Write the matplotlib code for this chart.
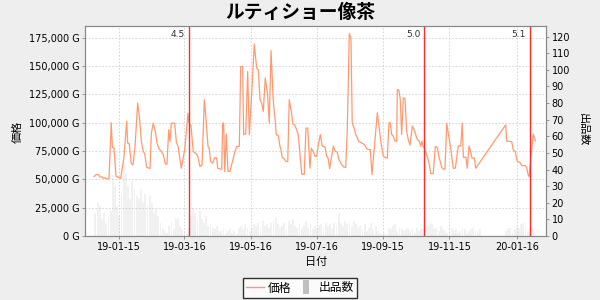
import matplotlib
matplotlib.use('Agg')
import matplotlib.pyplot as plt
import matplotlib.dates as mdates
from matplotlib.lines import Line2D
from matplotlib.ticker import FuncFormatter, MultipleLocator
import pandas as pd

plt.rcParams['font.family'] = ['DejaVu Sans', 'Noto Sans CJK JP']

title = 'ルティショー像茶'
base_day = '2018-12-22'

# 価格: day offsets from base_day and price (G)
price_days = [0.7, 2.8, 5.0, 6.2, 8.3, 9.3, 10.6, 11.8, 14.5, 16.6, 17.6, 19.1, 21.0, 23.1, 25.3,
              28.3, 30.8, 31.7, 33.2, 35.0, 36.6, 38.5, 40.9, 42.8, 44.3, 46.1, 47.4, 49.2, 52.3,
              53.5, 55.3, 57.5, 58.7, 60.3, 62.7, 64.5, 66.4, 67.9, 69.5, 70.7, 71.9, 75.0, 76.5,
              78.1, 79.6, 81.1, 84.2, 87.3, 88.2, 90.0, 92.1, 94.9, 96.5, 98.3, 100.2, 102.3,
              103.8, 105.7, 106.6, 108.2, 110.0, 111.8, 113.7, 114.6, 117.4, 118.3, 119.2, 120.1,
              121.1, 122.5, 124.1, 125.9, 130.5, 132.1, 134.5, 135.8, 137.6, 138.5, 140.4, 142.2,
              143.7, 146.2, 148.3, 150.5, 152.0, 153.6, 155.1, 156.6, 158.4, 160.6, 162.1, 163.7,
              165.8, 167.4, 168.6, 170.4, 172.0, 172.9, 174.1, 175.9, 177.5, 179.1, 180.5, 182.4,
              183.9, 185.5, 187.3, 188.8, 190.4, 192.0, 194.3, 195.9, 197.5, 198.4, 199.6, 200.8,
              202.6, 204.2, 205.8, 207.2, 209.1, 210.9, 213.4, 215.0, 216.2, 217.7, 221.1, 222.6,
              224.7, 226.3, 228.8, 230.9, 232.5, 233.9, 235.8, 237.3, 238.5, 240.1, 241.7, 243.2,
              244.4, 245.9, 248.7, 250.2, 251.8, 253.6, 255.1, 256.7, 259.4, 261.6, 263.1, 265.0,
              267.1, 269.3, 270.8, 272.3, 273.5, 274.8, 276.3, 277.9, 279.4, 280.0, 281.5, 282.7,
              284.0, 285.5, 287.1, 288.6, 290.1, 291.7, 293.8, 295.4, 296.9, 298.4, 300.2, 301.5,
              302.7, 303.6, 304.8, 306.4, 308.0, 309.5, 310.7, 313.1, 315.0, 316.8, 318.7, 320.9,
              322.3, 323.9, 325.5, 326.9, 329.2, 331.5, 333.4, 336.2, 338.4, 339.8, 340.8, 343.2,
              344.4, 346.0, 347.2, 348.8, 350.9, 352.2, 379.8, 380.7, 385.3, 386.8, 388.6, 390.5,
              393.0, 394.5, 397.6, 399.1, 400.3, 401.3, 403.1, 405.2, 407.1]
prices = [52400, 54200, 54000, 52100, 52100, 51000, 51500, 50600, 50400, 100000, 78400, 77800,
          52400, 52100, 50700, 70000, 101400, 82000, 81300, 64200, 62700, 78900, 117300, 102500,
          83300, 74500, 72500, 60700, 59500, 90800, 99600, 90800, 82000, 77500, 74500, 71600,
          63600, 63400, 93700, 83300, 99600, 99600, 83300, 79000, 69500, 59800, 76000, 108400,
          99600, 97500, 74500, 72500, 69500, 61200, 62700, 120200, 104000, 79000, 78000, 65700,
          64200, 69200, 68700, 59800, 59000, 59000, 99600, 99600, 56800, 89900, 56800, 57000,
          74500, 79000, 79000, 149600, 149600, 89300, 90100, 145200, 89300, 130500, 169400,
          148200, 146700, 120200, 117300, 109900, 139400, 124600, 99600, 163500, 118700, 104000,
          89300, 88700, 79000, 76000, 69200, 68000, 65700, 65700, 120200, 109900, 98700, 98100,
          93700, 89300, 71600, 54500, 54500, 95200, 95200, 79000, 59800, 77500, 74500, 70300,
          70300, 80000, 89500, 79300, 78400, 70400, 68900, 59500, 79300, 74900, 74000, 67400,
          63000, 60700, 60500, 92500, 178500, 175000, 99900, 95500, 89500, 86600, 83700, 82800,
          81300, 80200, 76900, 76300, 76300, 54200, 83700, 108700, 97000, 82200, 70400, 68900,
          68900, 99900, 99900, 89500, 88100, 83700, 83700, 129300, 128700, 120500, 89500, 122000,
          121100, 92500, 85100, 80200, 97000, 94000, 89500, 85100, 83700, 79300, 83700, 79300,
          77800, 73400, 68900, 63000, 55100, 55100, 79000, 78000, 68700, 60700, 59000, 59000,
          99600, 90800, 77500, 59800, 59800, 79500, 79500, 99600, 69500, 69500, 59800, 79500,
          76000, 68700, 68700, 59800, 98100, 83700, 83300, 76000, 74500, 65700, 64800, 62100,
          62100, 60700, 54500, 52400, 70100, 89900, 84000]

# 出品数: listings per two-day bin starting at count_start
count_start = '2018-12-24'
counts = [14, 20, 18, 10, 14, 8, 12, 15, 37, 30, 18, 12, 25, 44, 38, 30, 22, 33, 29, 24,
          22, 28, 20, 25, 18, 24, 20, 14, 16, 12, 8, 5, 3, 2, 6, 8, 4, 10, 11, 6,
          4, 3, 2, 5, 12, 17, 14, 9, 15, 10, 8, 12, 6, 8, 5, 4, 6, 3, 3, 4,
          2, 3, 4, 2, 3, 1, 5, 6, 4, 7, 5, 3, 5, 7, 6, 8, 5, 9, 6, 7,
          5, 8, 9, 11, 7, 5, 6, 8, 5, 9, 7, 10, 6, 5, 8, 4, 6, 9, 5, 7,
          4, 6, 5, 6, 7, 5, 8, 6, 7, 5, 8, 6, 14, 8, 6, 9, 7, 8, 6, 9,
          7, 5, 6, 4, 7, 3, 5, 8, 4, 6, 3, 2, 1, 2, 1, 5, 4, 6, 7, 3,
          5, 4, 3, 4, 5, 3, 4, 2, 5, 3, 4, 4, 5, 6, 8, 7, 4, 5, 3, 6,
          4, 3, 2, 4, 5, 3, 4, 2, 3, 5, 4, 2, 3, 4, 5, 3, 2, 4, 0, 0,
          0, 0, 0, 0, 0, 0, 0, 0, 0, 3, 4, 5, 3, 4, 6, 5, 7, 8, 6, 3,
          5, 5, 4, 0]

patch_names = ['4.5', '5.0', '5.1']
patch_dates = ['2019-03-20', '2019-10-23', '2020-01-28']

tick_dates = ['2019-01-15', '2019-03-16', '2019-05-16', '2019-07-16',
              '2019-09-15', '2019-11-15', '2020-01-16']

line_color = '#ff9a70'
bar_color = '#c0c0c0'
frame = '#888888'

price_x = pd.Timestamp(base_day) + pd.to_timedelta(price_days, unit='D')
count_x = pd.date_range(count_start, periods=len(counts), freq='2D')

fig = plt.figure(figsize=(6, 3), dpi=100, facecolor='#eeeeee')
ax = fig.add_axes([85 / 600, 1 - 236 / 300, 461 / 600, 210 / 300])
ax2 = ax.twinx()

ax2.bar(count_x, counts, width=1.7, color=bar_color, alpha=0.22, linewidth=0)
ax2.set_ylim(0, 126.4)
ax2.yaxis.set_major_locator(MultipleLocator(10))

ax.plot(price_x, prices, color=line_color, lw=0.9)
ax.set_ylim(0, 185300)
ax.yaxis.set_major_locator(MultipleLocator(25000))
ax.yaxis.set_major_formatter(FuncFormatter(lambda v, p: f'{int(v):,} G'))

for name, d in zip(patch_names, patch_dates):
    ax.axvline(pd.Timestamp(d), color='#ff2a2a', lw=1.0)
    ax.annotate(name, xy=(pd.Timestamp(d), 1), xycoords=('data', 'axes fraction'),
                xytext=(-3, -3), textcoords='offset points', ha='right', va='top',
                fontsize=6.5, color='#333333')

ax.set_zorder(ax2.get_zorder() + 1)
ax.patch.set_visible(False)
ax2.patch.set_visible(True)
ax2.patch.set_facecolor('white')

ax.set_xlim(pd.Timestamp('2018-12-14 10:00'), pd.Timestamp('2020-02-11 22:00'))
ax.set_xticks([pd.Timestamp(t) for t in tick_dates])
ax.xaxis.set_major_formatter(mdates.DateFormatter('%y-%m-%d'))

ax.grid(True, color='#d0d0d0', linestyle=(0, (2, 2)), lw=0.6)
for a in (ax, ax2):
    for s in a.spines.values():
        s.set_color(frame)
    a.tick_params(labelsize=7, length=2.5, width=0.6, color=frame, pad=1.5)

fig.text(0.5, 1 - 13 / 300, title, ha='center', va='center', fontsize=13.5,
         fontweight='bold', family=['Noto Sans CJK JP', 'DejaVu Sans'])
fig.text(18 / 600, 1 - 132 / 300, '価格', rotation=90, ha='center', va='center',
         fontsize=8, family=['Noto Sans CJK JP'])
fig.text(583 / 600, 1 - 130 / 300, '出品数', rotation=270, ha='center', va='center',
         fontsize=8, family=['Noto Sans CJK JP'])
fig.text(316 / 600, 1 - 262 / 300, '日付', ha='center', va='center',
         fontsize=8, family=['Noto Sans CJK JP'])

handles = [Line2D([], [], color=line_color, lw=1),
           Line2D([], [], linestyle='none', marker=[(-0.5, -1), (0.5, -1), (0.5, 1), (-0.5, 1)],
                  markersize=10, markerfacecolor=bar_color, markeredgewidth=0)]
leg = fig.legend(handles, ['価格', '出品数'], loc='center', bbox_to_anchor=(0.5, 1 - 288 / 300),
                 ncol=2, frameon=True, fancybox=False, edgecolor='black',
                 handlelength=1.5, handletextpad=0.3, columnspacing=0.5, borderpad=0.3,
                 prop={'family': ['Noto Sans CJK JP'], 'size': 8.5})
leg.get_frame().set_linewidth(1.0)

fig.savefig('out.png', dpi=100, facecolor=fig.get_facecolor())
